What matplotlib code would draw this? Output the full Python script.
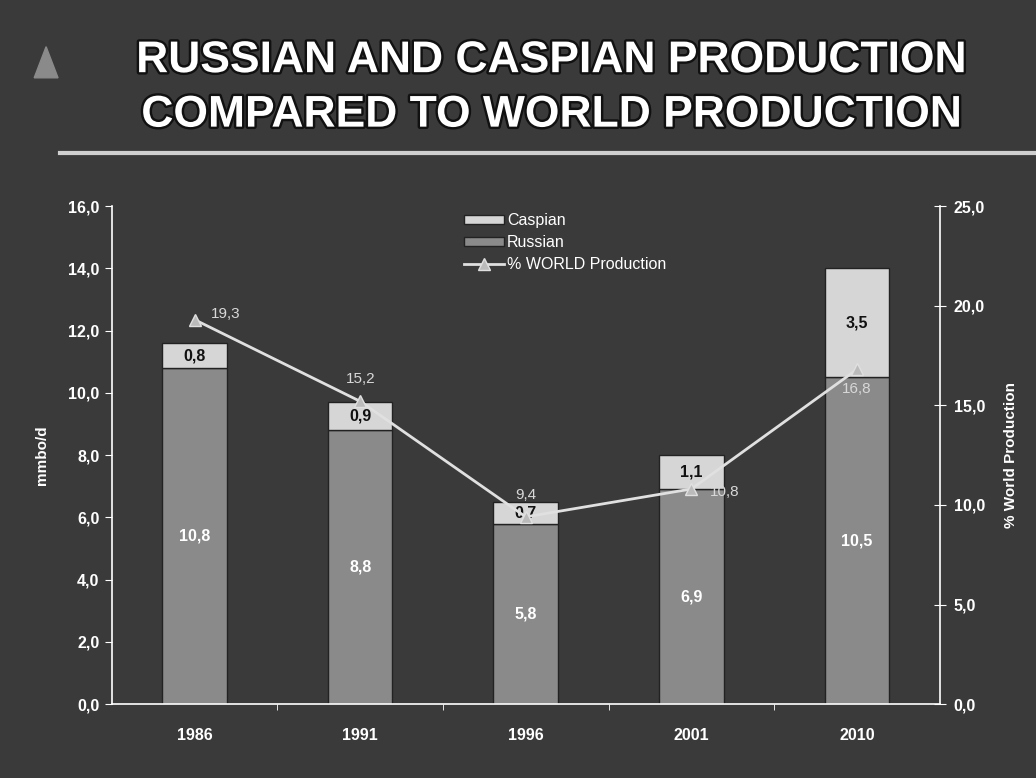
import matplotlib
matplotlib.use("Agg")
import matplotlib.pyplot as plt
import matplotlib.patheffects as pe
import numpy as np

years = ["1986", "1991", "1996", "2001", "2010"]
russian = [10.8, 8.8, 5.8, 6.9, 10.5]
caspian = [0.8, 0.9, 0.7, 1.1, 3.5]
world_pct = [19.3, 15.2, 9.4, 10.8, 16.8]
left_ticks = [0, 2, 4, 6, 8, 10, 12, 14, 16]
right_ticks = [0, 5, 10, 15, 20, 25]

BG = "#3a3a3a"
RUS = "#8a8a8a"
CAS = "#d6d6d6"
LINE = "#e0e0e0"

plt.rcParams['font.family'] = ['Liberation Sans', 'DejaVu Sans']

fig = plt.figure(figsize=(10.36, 7.78), dpi=100, facecolor=BG)

# Title
title_fx = [pe.withStroke(linewidth=3.5, foreground="#111111")]
fig.text(0.533, 0.922, "RUSSIAN AND CASPIAN PRODUCTION", ha="center", va="center",
         fontsize=32, fontweight="bold", color="white", path_effects=title_fx)
fig.text(0.533, 0.852, "COMPARED TO WORLD PRODUCTION", ha="center", va="center",
         fontsize=32, fontweight="bold", color="white", path_effects=title_fx)
# separator line
fig.add_artist(plt.Line2D([0.058, 1.0], [0.803, 0.803], color="#cfcfcf", lw=3,
                          transform=fig.transFigure))
# small logo triangle
fig.add_artist(plt.Polygon([[0.033, 0.9], [0.056, 0.9], [0.0445, 0.94]],
                           closed=True, color="#8a8a8a", transform=fig.transFigure))

ax = fig.add_axes([0.108, 0.095, 0.799, 0.64])
ax.set_facecolor(BG)
x = np.arange(len(years))
w = 0.39
b1 = ax.bar(x, russian, w, color=RUS, edgecolor="#222222", lw=1, label="Russian", zorder=2)
b2 = ax.bar(x, caspian, w, bottom=russian, color=CAS, edgecolor="#222222", lw=1,
            label="Caspian", zorder=2)
ax.set_xlim(-0.5, len(years) - 0.5)
ax.set_ylim(0, 16)
ax.set_yticks(left_ticks)
ax.set_yticklabels([f"{t:.1f}".replace(".", ",") for t in left_ticks],
                   color="white", fontsize=11.5, fontweight="bold")
ax.set_xticks(x)
ax.set_xticklabels(years, color="white", fontsize=11.5, fontweight="bold")
ax.tick_params(axis="x", length=0, pad=17)
ax.set_xticks(np.arange(0.5, len(years) - 0.5, 1), minor=True)
ax.tick_params(axis="x", which="minor", length=4, color="white", direction="out")
ax.tick_params(axis="y", length=5, color="white", direction="out", pad=4)
for s in ["top", "right"]:
    ax.spines[s].set_visible(False)
ax.spines["left"].set_color("white")
ax.spines["bottom"].set_color("white")
ax.spines["left"].set_linewidth(1.2)
ax.spines["bottom"].set_linewidth(1.2)
ax.set_ylabel("mmbo/d", color="white", fontsize=11, fontweight="bold", labelpad=14)

for i in range(len(years)):
    ax.text(x[i], russian[i] / 2, f"{russian[i]:.1f}".replace(".", ","), ha="center",
            va="center", color="white", fontsize=11.5, fontweight="bold", zorder=4)
    ax.text(x[i], russian[i] + caspian[i] / 2, f"{caspian[i]:.1f}".replace(".", ","),
            ha="center", va="center", color="#111111", fontsize=11.5, fontweight="bold",
            zorder=4)

ax2 = ax.twinx()
ax2.set_ylim(0, 25)
ax2.set_yticks(right_ticks)
ax2.set_yticklabels([f"{t:.1f}".replace(".", ",") for t in right_ticks],
                    color="white", fontsize=11.5, fontweight="bold")
ax2.tick_params(axis="y", length=8, color="white", direction="inout", pad=6)
for s in ["top", "left", "bottom"]:
    ax2.spines[s].set_visible(False)
ax2.spines["right"].set_color("white")
ax2.spines["right"].set_linewidth(1.2)
ax2.set_ylabel("% World Production", color="white", fontsize=11, fontweight="bold",
               labelpad=14)
ln, = ax2.plot(x, world_pct, color=LINE, lw=2, marker="^", markersize=8,
               markerfacecolor="#bbbbbb", markeredgecolor=LINE,
               label="% WORLD Production", zorder=5)
offsets = [(22, 4), (0, 16), (0, 16), (24, -2), (0, -14)]
for i in range(len(years)):
    ax2.annotate(f"{world_pct[i]:.1f}".replace(".", ","), (x[i], world_pct[i]),
                 xytext=offsets[i], textcoords="offset points", ha="center",
                 va="center", color="#d8d8d8", fontsize=11, zorder=6)

leg = ax2.legend([b2, b1, ln], ["Caspian", "Russian", "% WORLD Production"],
                 loc="upper left", bbox_to_anchor=(0.408, 1.015), frameon=False,
                 fontsize=11.5, labelspacing=0.45, handlelength=2.5, handleheight=0.5,
                 handletextpad=0.2)
for t in leg.get_texts():
    t.set_color("white")

fig.savefig("out.png", dpi=100, facecolor=BG)
